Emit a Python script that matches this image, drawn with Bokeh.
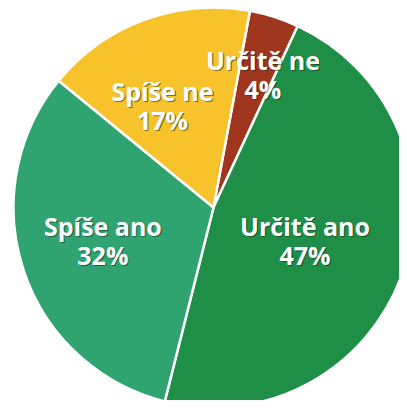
import numpy as np
from bokeh.plotting import figure
from bokeh.models import ColumnDataSource, Range1d
from bokeh.core.properties import value
from bokeh.embed import file_html
from bokeh.resources import INLINE

# --- data ---
categories = ["Určitě ne", "Určitě ano", "Spíše ano", "Spíše ne"]
percent = [4, 47, 32, 17]
colors = ["#a1361f", "#1f8f47", "#2fa370", "#f8c22a"]

# --- styling ---
start_offset_deg = 10.5           # clockwise from 12 o'clock
label_r = [0.70, 0.49, 0.58, 0.56]
label_nudge_deg = [-3.0, -1.5, -0.8, 7.0]
label_lift_px = 2.0

vals = np.array(percent, dtype=float)
frac = vals / vals.sum()
cum = np.concatenate([[0], np.cumsum(frac)]) * 2 * np.pi
start_cw = np.deg2rad(start_offset_deg) + cum[:-1]
end_cw = np.deg2rad(start_offset_deg) + cum[1:]
start_ang = np.pi / 2 - start_cw
end_ang = np.pi / 2 - end_cw
mid_ang = (start_ang + end_ang) / 2 + np.deg2rad(label_nudge_deg)

src = ColumnDataSource(dict(cat=categories, start=start_ang, end=end_ang, color=colors))

W, H = 399, 400
cx_px, cy_px = 213, 207
scale = 200.0

p = figure(width=W, height=H, output_backend="svg", toolbar_location=None,
           x_range=Range1d(-cx_px / scale, (W - cx_px) / scale),
           y_range=Range1d(-(H - cy_px) / scale, cy_px / scale),
           min_border=0, outline_line_color=None)
p.axis.visible = False
p.grid.visible = False
p.background_fill_color = "white"
p.border_fill_color = "white"

p.wedge(x=0, y=0, radius=1.0, start_angle="start", end_angle="end",
        direction="clock", fill_color="color", line_color="white",
        line_width=2.5, source=src)

lx = np.array(label_r) * np.cos(mid_ang)
ly = np.array(label_r) * np.sin(mid_ang) + label_lift_px / scale
half = 14.5 / scale
names = categories
pcts = [f"{v}%" for v in percent]

for dx, dy, col, alpha in [(1.2 / scale, -1.2 / scale, "#0b2e18", 0.55), (0, 0, "white", 1.0)]:
    p.text(x=lx + dx, y=ly + half + dy, text=names, text_color=col, text_alpha=alpha,
           text_font=value("Open Sans"), text_font_style="bold", text_font_size="25px",
           text_align="center", text_baseline="middle")
    p.text(x=lx + dx, y=ly - half + dy, text=pcts, text_color=col, text_alpha=alpha,
           text_font=value("Open Sans"), text_font_style="bold", text_font_size="25px",
           text_align="center", text_baseline="middle")

open("out.html", "w").write(file_html(p, INLINE))
